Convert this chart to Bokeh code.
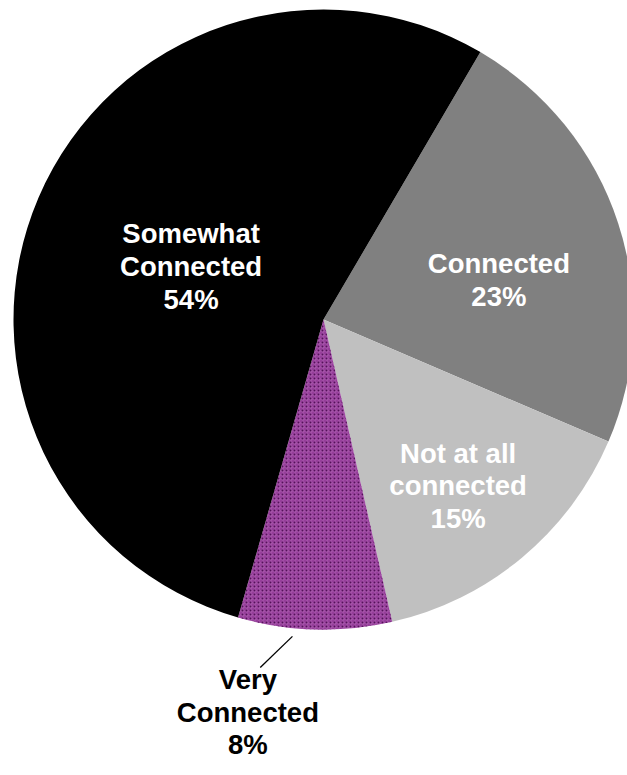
import math
from bokeh.plotting import figure
from bokeh.models import Range1d, ColumnDataSource
from bokeh.core.properties import value
from bokeh.embed import file_html
from bokeh.resources import INLINE

# ---- data ----
categories = ["Connected", "Not at all connected", "Very Connected", "Somewhat Connected"]
label_lines = ["Connected\n23%", "Not at all\nconnected\n15%", "Very\nConnected\n8%", "Somewhat\nConnected\n54%"]
percents = [23, 15, 8, 54]
colors = ["#808080", "#C0C0C0", "#973F9B", "#000000"]
text_colors = ["white", "white", "black", "white"]

# ---- layout ----
W, H = 627, 767
cx, cy = 323, H - 319      # pie centre in plot units (pixels)
R = 310
start_cw = 30.4            # first slice starts this many degrees clockwise from 12 o'clock
label_rfrac = [0.58, 0.69, 1.29, 0.46]
label_dang = [5.5, 0.8, 9.3, -1.4]

p = figure(width=W, height=H, output_backend="svg", toolbar_location=None,
           x_range=Range1d(0, W), y_range=Range1d(0, H), min_border=0)
p.axis.visible = False
p.grid.visible = False
p.outline_line_color = None
p.background_fill_color = "white"
p.border_fill_color = "white"

total = sum(percents)
cum = start_cw
starts, ends, mids = [], [], []
for v in percents:
    span = v / total * 360.0
    a0 = cum
    a1 = cum + span
    starts.append(math.radians(90 - a0))
    ends.append(math.radians(90 - a1))
    mids.append(a0 + span / 2)
    cum = a1

src = ColumnDataSource(dict(start=starts, end=ends, color=colors))
p.wedge(x=cx, y=cy, radius=R, start_angle="start", end_angle="end", direction="clock",
        fill_color="color", line_color=None, source=src)

# patterned purple slice
i = 2
p.wedge(x=cx, y=cy, radius=R, start_angle=starts[i], end_angle=ends[i], direction="clock",
        fill_color=None, line_color=None, hatch_pattern="cross", hatch_color="#C27FC5",
        hatch_scale=4, hatch_weight=0.7, hatch_alpha=0.7)
p.wedge(x=cx, y=cy, radius=R, start_angle=starts[i], end_angle=ends[i], direction="clock",
        fill_color=None, line_color=None, hatch_pattern="dot", hatch_color="#55105A",
        hatch_scale=4, hatch_weight=1.2)

# labels
lx, ly = [], []
for k in range(len(percents)):
    a = math.radians(mids[k] + label_dang[k])
    r = R * label_rfrac[k]
    lx.append(cx + r * math.sin(a))
    ly.append(cy + r * math.cos(a))

lsrc = ColumnDataSource(dict(x=lx, y=ly, text=label_lines, color=text_colors))
p.text(x="x", y="y", text="text", source=lsrc, text_color="color",
       text_font=value("Liberation Sans"), text_font_style="bold",
       text_font_size="27.5px", text_align="center", text_baseline="middle",
       text_line_height=1.05)

# leader line for the small slice
a_in = math.radians(mids[2] + 4.0)
a_out = math.radians(mids[2] + 8.7)
r_in, r_out = R * 1.027, R * 1.141
p.segment(x0=cx + r_in * math.sin(a_in), y0=cy + r_in * math.cos(a_in),
          x1=cx + r_out * math.sin(a_out), y1=cy + r_out * math.cos(a_out),
          line_color="black", line_width=1.3)

open("out.html", "w").write(file_html(p, INLINE))
